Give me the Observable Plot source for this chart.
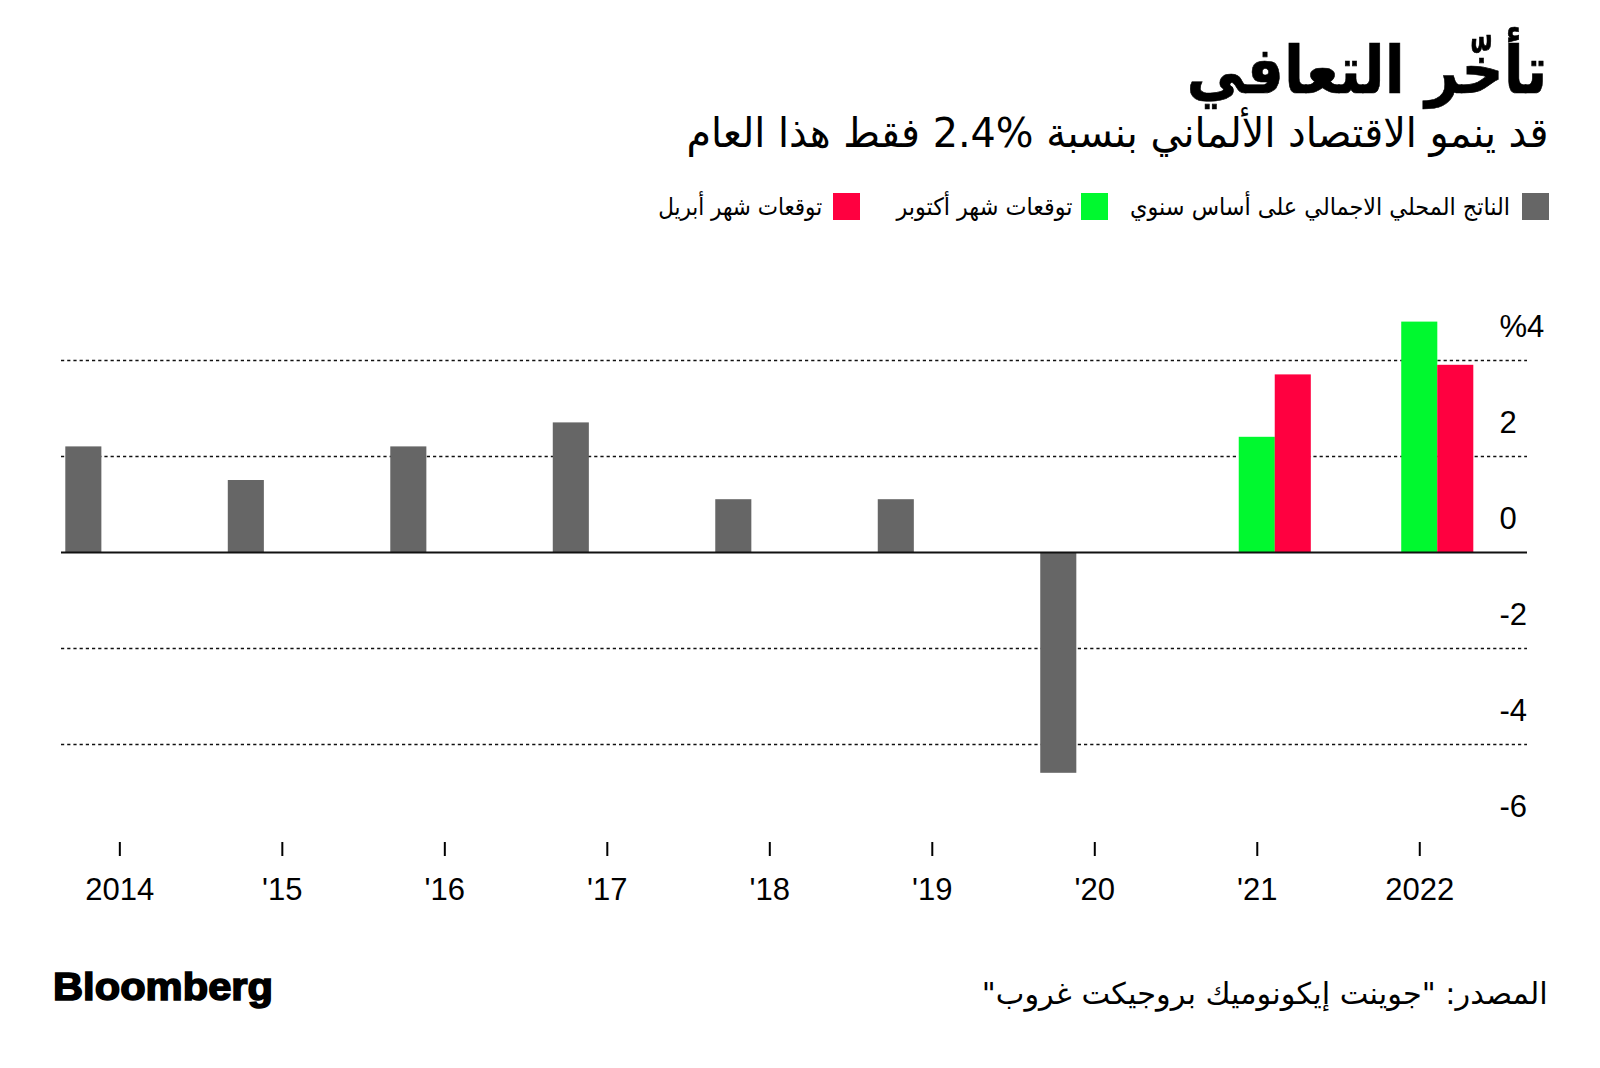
<!DOCTYPE html>
<html>
<head>
<meta charset="utf-8">
<script src="https://cdn.jsdelivr.net/npm/d3@7"></script>
<script src="https://cdn.jsdelivr.net/npm/@observablehq/plot@0.6"></script>
<style>
  html, body { margin: 0; padding: 0; background: #fff; }
  body { width: 1600px; height: 1068px; position: relative; overflow: hidden; }
  .t { position: absolute; white-space: nowrap; line-height: 1; color: #000; }
  .sw { position: absolute; }
  #chart { position: absolute; left: 0; top: 250px; }
</style>
</head>
<body>
<div id="chart"></div>
<script>
// ---------- data ----------
const yearLabels = ["2014", "'15", "'16", "'17", "'18", "'19", "'20", "'21", "2022"];
const gdpYears = ["2014", "'15", "'16", "'17", "'18", "'19", "'20"];
const gdpValues = [2.2, 1.5, 2.2, 2.7, 1.1, 1.1, -4.6];
const forecastYears = ["'21", "2022"];
const octoberValues = [2.4, 4.8];
const aprilValues = [3.7, 3.9];
const yTicks = [-6, -4, -2, 0, 2, 4];
const gridValues = [-4, -2, 2, 4];
const seriesNames = ["الناتج المحلي الاجمالي على أساس سنوي", "توقعات شهر أكتوبر", "توقعات شهر أبريل"];
const seriesColors = ["#666666", "#00f92f", "#ff0040"];

const titleText = "تأخّر التعافي";
const subtitleText = "قد ينمو الاقتصاد الألماني بنسبة \u20662.4%\u2069 فقط هذا العام";
const sourceText = "المصدر: \"جوينت إيكونوميك بروجيكت غروب\"";
const logoText = "Bloomberg";

// ---------- tables built from the arrays ----------
const gdpRows = gdpYears.map((year, i) => ({year, series: seriesNames[0], value: gdpValues[i]}));
const octRows = forecastYears.map((year, i) => ({year, series: seriesNames[1], value: octoberValues[i]}));
const aprRows = forecastYears.map((year, i) => ({year, series: seriesNames[2], value: aprilValues[i]}));

// ---------- chart ----------
const chart = Plot.plot({
  width: 1600,
  height: 670,
  marginLeft: 61,
  marginRight: 73,
  marginTop: 52.4,
  marginBottom: 80,
  style: {background: "#fff", color: "#000", fontFamily: "'Liberation Sans', Arial, sans-serif"},
  x: {type: "band", domain: yearLabels, paddingInner: 0.778, paddingOuter: 0.4, align: 0.31, round: false, axis: null},
  y: {domain: [-6, 5.2], axis: null},
  color: {domain: seriesNames, range: seriesColors},
  marks: [
    Plot.ruleY(gridValues, {stroke: "#111", strokeWidth: 1.6, strokeDasharray: "3.2,3"}),
    Plot.barY(gdpRows, {x: "year", y: "value", fill: "series", dx: -36, insetLeft: 0, insetRight: 0}),
    Plot.barY(octRows, {x: "year", y: "value", fill: "series", insetLeft: 0, insetRight: 0}),
    Plot.barY(aprRows, {x: "year", y: "value", fill: "series", dx: 36, insetLeft: 0, insetRight: 0}),
    Plot.ruleY([0], {stroke: "#111", strokeWidth: 2}),
    Plot.axisX({anchor: "bottom", tickSize: 14, tickPadding: 21, dy: 2, strokeWidth: 2,
      fontSize: 31, fill: "#000", label: null}),
    Plot.axisY(yTicks, {anchor: "right", tickSize: 0, tickPadding: -28, dy: -33,
      fontSize: 31, fill: "#000", label: null,
      tickFormat: d => d === 4 ? "%4" : `${d}`})
  ]
});
document.getElementById("chart").appendChild(chart);

// ---------- html text (title, legend, footer) ----------
function addText(text, {font, weight = "normal", size, left, right, baseline, width, dir = "rtl", stroke = 0}) {
  const el = document.createElement("div");
  el.className = "t";
  el.dir = dir;
  el.textContent = text;
  el.style.fontFamily = font;
  el.style.fontWeight = weight;
  el.style.fontSize = size + "px";
  el.style.top = (baseline - 0.846 * size) + "px";
  if (stroke) el.style.webkitTextStroke = stroke + "px #000";
  document.body.appendChild(el);
  const w = el.getBoundingClientRect().width;
  const k = width ? width / w : 1;
  if (right !== undefined) {
    el.style.left = (right - w) + "px";
    el.style.transformOrigin = "right center";
  } else {
    el.style.left = left + "px";
    el.style.transformOrigin = "left center";
  }
  el.style.transform = `scaleX(${k})`;
  return el;
}
function addSwatch(color, left, top, size) {
  const el = document.createElement("div");
  el.className = "sw";
  Object.assign(el.style, {left: left + "px", top: top + "px", width: size + "px", height: size + "px", background: color});
  document.body.appendChild(el);
}

const arabicFont = "'DejaVu Sans', sans-serif";
addText(titleText, {font: arabicFont, weight: "bold", size: 66, right: 1548, baseline: 94, width: 361, stroke: 0.6});
addText(subtitleText, {font: arabicFont, size: 41, right: 1548, baseline: 148, width: 862});

// legend
const legendItems = [
  {swatchLeft: 1522, textRight: 1510, textWidth: 380},
  {swatchLeft: 1081, textRight: 1072, textWidth: 176},
  {swatchLeft: 833, textRight: 822, textWidth: 164}
];
seriesNames.forEach((name, i) => {
  const it = legendItems[i];
  addSwatch(seriesColors[i], it.swatchLeft, 193, 26.5);
  addText(name, {font: arabicFont, size: 24, right: it.textRight, baseline: 215, width: it.textWidth});
});

// footer
addText(logoText, {font: "'Liberation Sans', Arial, sans-serif", weight: "bold", size: 39, left: 53, baseline: 1000, width: 220, dir: "ltr", stroke: 1.6});
addText(sourceText, {font: arabicFont, size: 30, right: 1548, baseline: 1004, width: 566});
</script>
</body>
</html>
